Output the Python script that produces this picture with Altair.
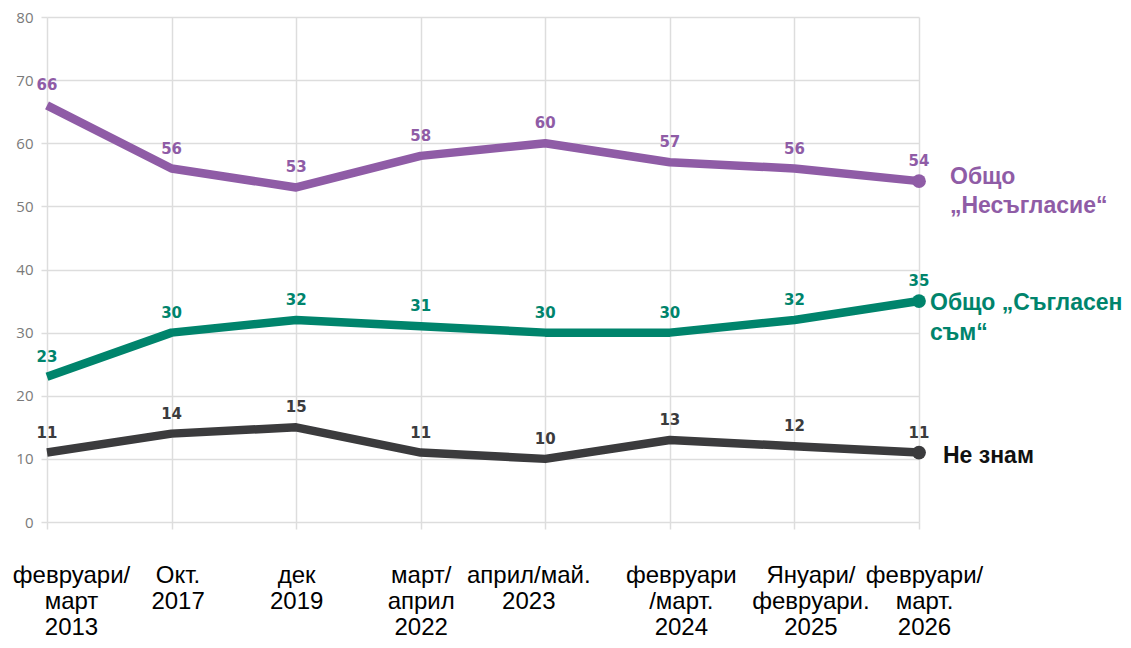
import altair as alt
import pandas as pd

periods = ["февруари/|март|2013", "Окт.|2017", "дек|2019", "март/|април|2022",
           "април/май.|2023", "февруари|/март.|2024", "Януари/|февруари.|2025",
           "февруари/|март.|2026"]
disagree = [66, 56, 53, 58, 60, 57, 56, 54]
agree = [23, 30, 32, 31, 30, 30, 32, 35]
dont_know = [11, 14, 15, 11, 10, 13, 12, 11]
series_names = ["Несъгласие", "Съгласен", "Не знам"]
end_labels = ["Общо\n„Несъгласие“", "Общо „Съгласен\nсъм“", "Не знам"]
colors = ["#8f5ca6", "#00846c", "#3b3b3d"]
label_colors = ["#8f5ca6", "#00846c", "#111111"]
y_ticks = [0, 10, 20, 30, 40, 50, 60, 70, 80]

rows = []
for name, vals, lab in zip(series_names, [disagree, agree, dont_know], end_labels):
    for p, v in zip(periods, vals):
        rows.append({"period": p, "series": name, "value": v, "endlabel": lab})
df = pd.DataFrame(rows)

grid = "#dddddd"
color_scale = alt.Scale(domain=series_names, range=colors)

x_enc = alt.X(
    "period:N", sort=periods, scale=alt.Scale(type="point", padding=0),
    axis=alt.Axis(
        title=None, labelAngle=0, domain=False, grid=True, gridColor=grid, gridWidth=1.5,
        ticks=True, tickColor=grid, tickWidth=1.5, tickSize=7,
        labelFont="Liberation Sans", labelFontSize=24, labelColor="#000000",
        labelLineHeight=26, labelBaseline="top", labelOverlap=False, labelLimit=300,
        labelExpr="split(datum.label, '|')",
        labelPadding=34,
        labelOffset={"condition": [
            {"test": f"datum.value == '{periods[0]}'", "value": 24},
            {"test": f"datum.value == '{periods[1]}'", "value": 6},
            {"test": f"datum.value == '{periods[4]}'", "value": -17},
            {"test": f"datum.value == '{periods[5]}'", "value": 11},
            {"test": f"datum.value == '{periods[6]}'", "value": 16},
            {"test": f"datum.value == '{periods[7]}'", "value": 5},
        ], "value": 0},
    ),
)
y_enc = alt.Y(
    "value:Q", scale=alt.Scale(domain=[0, 80]),
    axis=alt.Axis(
        title=None, values=y_ticks, domain=False, grid=True, gridColor=grid, gridWidth=1.5,
        ticks=True, tickColor=grid, tickWidth=1.5, tickSize=6,
        labelFont="Open Sans", labelFontSize=15, labelColor="#7a7a7a", labelPadding=8,
    ),
)
col = alt.Color("series:N", scale=color_scale, legend=None)

base = alt.Chart(df).encode(x=x_enc, y=y_enc)

lines = base.mark_line(strokeWidth=8.5, strokeCap="butt", strokeJoin="round").encode(
    color=col, detail="series:N")

values = base.mark_text(font="DejaVu Sans", fontWeight="bold", fontSize=15, dy=-20,
                        baseline="middle").encode(color=col, text="value:Q")

endpts = base.transform_filter(alt.datum.period == periods[-1]).mark_circle(
    size=190, opacity=1).encode(color=col)

end_layers = []
specs = [(series_names[0], label_colors[0], 31, -15, 29),
         (series_names[1], label_colors[1], 11, -9, 30),
         (series_names[2], label_colors[2], 24, -8, 30)]
for name, c, dx, dy, lh in specs:
    end_layers.append(
        base.transform_filter(
            (alt.datum.period == periods[-1]) & (alt.datum.series == name)
        ).mark_text(font="Liberation Sans", fontWeight="bold", fontSize=23, align="left",
                    baseline="top", dx=dx, dy=dy, lineBreak="\n", lineHeight=lh,
                    color=c).encode(text="endlabel:N")
    )

chart = alt.layer(lines, values, endpts, *end_layers).properties(
    width=872, height=505,
    autosize=alt.AutoSizeParams(type="none"),
    padding={"left": 39, "top": 9, "right": 203, "bottom": 116},
).configure_view(stroke=None)

chart.save("out.html", embed_options={"renderer": "svg", "actions": False})
